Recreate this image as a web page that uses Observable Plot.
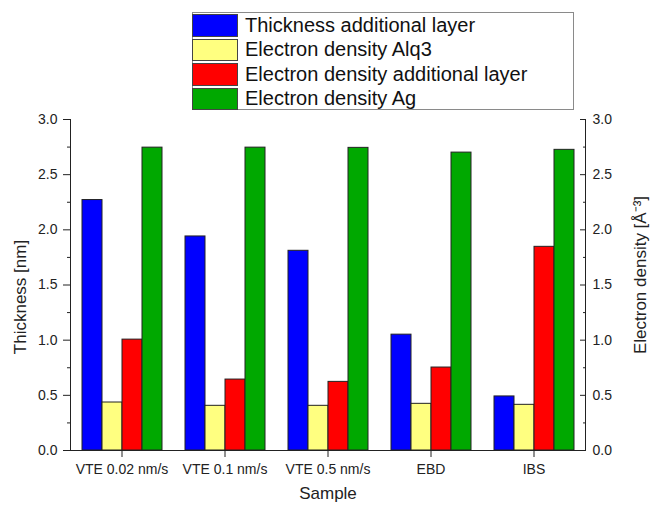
<!DOCTYPE html>
<html>
<head>
<meta charset="utf-8">
<script src="https://cdn.jsdelivr.net/npm/d3@7"></script>
<script src="https://cdn.jsdelivr.net/npm/@observablehq/plot@0.6"></script>
<style>
  html, body { margin: 0; padding: 0; background: #fff; }
  #chart { position: relative; width: 653px; height: 506px; font-family: "Liberation Sans", Arial, sans-serif; }
  #chart svg { position: absolute; left: 0; top: 0; }
  #legend { position: absolute; left: 192px; top: 12px; width: 382px; height: 98px; box-sizing: border-box;
            border: 1px solid #8a8a8a; background: #fff; }
  .row { display: flex; align-items: center; height: 24.5px; }
  .sw { width: 46px; height: 22.5px; box-sizing: border-box; border: 1px solid #444; margin-left: -1px; flex: none; }
  .lab { margin-left: 7px; font-size: 20px; color: #111; white-space: nowrap; }
</style>
</head>
<body>
<div id="chart"><div id="legend"></div></div>
<script>
const samples = ["VTE 0.02 nm/s", "VTE 0.1 nm/s", "VTE 0.5 nm/s", "EBD", "IBS"];
const seriesNames = ["Thickness additional layer", "Electron density Alq3", "Electron density additional layer", "Electron density Ag"];
const seriesColors = ["#0000ff", "#ffff80", "#ff0000", "#00a800"];
const thicknessLayer = [2.27, 1.94, 1.81, 1.05, 0.49];
const densityAlq3 = [0.435, 0.405, 0.405, 0.423, 0.414];
const densityLayer = [1.005, 0.643, 0.622, 0.752, 1.846];
const densityAg = [2.745, 2.745, 2.743, 2.70, 2.725];
const majorTicks = [0, 0.5, 1.0, 1.5, 2.0, 2.5, 3.0];
const minorTicks = [0.25, 0.75, 1.25, 1.75, 2.25, 2.75];
const leftTitle = "Thickness [nm]";
const rightTitle = "Electron density [Å⁻³]";
const xTitle = "Sample";

const seriesValues = [thicknessLayer, densityAlq3, densityLayer, densityAg];
const table = [];
samples.forEach((s, i) => seriesNames.forEach((n, j) => table.push({sample: s, series: n, value: seriesValues[j][i]})));

const ink = "#222";
const fmt = d3.format(".1f");

const plot = Plot.plot({
  width: 653,
  height: 506,
  marginTop: 119,
  marginBottom: 56,
  marginLeft: 68,
  marginRight: 66,
  style: {fontFamily: "'Liberation Sans', Arial, sans-serif", fontSize: "14px", color: ink, background: "transparent"},
  fx: {domain: samples, padding: 0},
  x: {domain: seriesNames, paddingInner: 0, paddingOuter: 0.47, axis: null},
  y: {domain: [0, 3]},
  color: {domain: seriesNames, range: seriesColors},
  marks: [
    Plot.barY(table, {fx: "sample", x: "series", y: "value", fill: "series", stroke: ink, strokeWidth: 1, inset: 0}),
    Plot.frame({anchor: "left", facet: "super", stroke: ink}),
    Plot.frame({anchor: "right", facet: "super", stroke: ink}),
    Plot.frame({anchor: "bottom", facet: "super", stroke: ink}),
    Plot.axisY({anchor: "left", ticks: majorTicks, tickFormat: fmt, tickSize: 7, tickPadding: 6, label: null, fontSize: 14}),
    Plot.axisY({anchor: "left", ticks: minorTicks, tickFormat: () => "", tickSize: 3, label: null}),
    Plot.axisY({anchor: "right", ticks: majorTicks, tickFormat: fmt, tickSize: -6, tickPadding: 13, label: null, fontSize: 14}),
    Plot.axisY({anchor: "right", ticks: minorTicks, tickFormat: () => "", tickSize: -3, label: null}),
    Plot.axisFx({anchor: "bottom", tickSize: 7, tickPadding: 7, label: null, fontSize: 14}),
    Plot.text([leftTitle], {facet: "super", frameAnchor: "left", textAnchor: "middle", rotate: -90, dx: -50, dy: 12, fontSize: 17, fill: ink}),
    Plot.text([rightTitle], {facet: "super", frameAnchor: "right", textAnchor: "middle", rotate: -90, dx: 55, dy: -10, fontSize: 17, fill: ink}),
    Plot.text([xTitle], {facet: "super", frameAnchor: "bottom", textAnchor: "middle", dy: 48, fontSize: 17, fill: ink})
  ]
});
document.getElementById("chart").insertBefore(plot, document.getElementById("legend"));

const legend = document.getElementById("legend");
seriesNames.forEach((n, j) => {
  const row = document.createElement("div");
  row.className = "row";
  const sw = document.createElement("div");
  sw.className = "sw";
  sw.style.background = seriesColors[j];
  const lab = document.createElement("span");
  lab.className = "lab";
  lab.textContent = n;
  row.appendChild(sw);
  row.appendChild(lab);
  legend.appendChild(row);
});
</script>
</body>
</html>
